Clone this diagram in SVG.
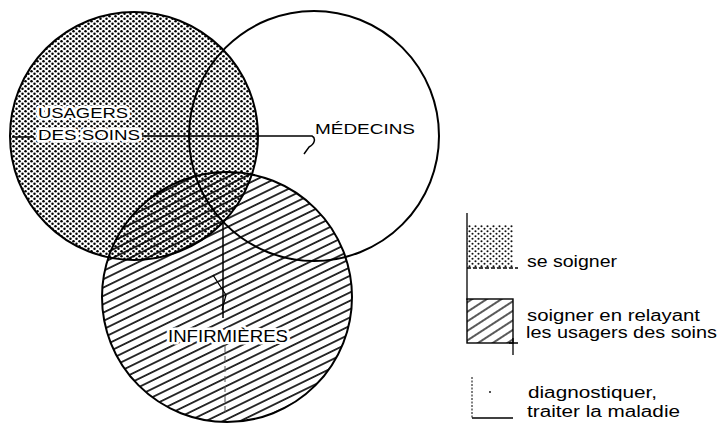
<svg xmlns="http://www.w3.org/2000/svg" width="720" height="425" viewBox="0 0 720 425">
<defs>
<pattern id="dots" patternUnits="userSpaceOnUse" width="6" height="5">
<circle cx="1.5" cy="1.25" r="1.25" fill="#000"/>
<circle cx="4.5" cy="3.75" r="1.25" fill="#000"/>
</pattern>
<pattern id="dotsLight" patternUnits="userSpaceOnUse" width="6" height="5">
<circle cx="1.5" cy="1.25" r="1.05" fill="#111"/>
<circle cx="4.5" cy="3.75" r="1.05" fill="#111"/>
</pattern>
<pattern id="hatch" patternUnits="userSpaceOnUse" width="10" height="7.5" patternTransform="rotate(-26)">
<line x1="0" y1="3.75" x2="10" y2="3.75" stroke="#000" stroke-width="1.6"/>
</pattern>
<pattern id="hatchLegend" patternUnits="userSpaceOnUse" width="10" height="8" patternTransform="rotate(-33)">
<line x1="0" y1="4" x2="10" y2="4" stroke="#000" stroke-width="1.3"/>
</pattern>
<style>
.outline{fill:none;stroke:#000;stroke-width:2}
.label{font-family:"Liberation Sans",Arial,sans-serif;fill:#000;stroke:#fff;stroke-width:5;paint-order:stroke;stroke-linejoin:round}
.leg{font-family:"Liberation Sans",Arial,sans-serif;font-size:16px;fill:#000}
.conn{fill:none;stroke:#000;stroke-width:1.5}
.thin{fill:none;stroke:#000;stroke-width:1.3}
</style>
</defs>
<rect width="720" height="425" fill="#fff"/>

<g id="usagers">
<circle cx="134" cy="136" r="124" fill="url(#dots)"/>
</g>
<g id="infirmieres">
<circle cx="227" cy="297" r="125" fill="url(#hatch)"/>
</g>
<g id="outlines">
<circle class="outline" cx="134" cy="136" r="124"/>
<circle class="outline" cx="314" cy="136" r="125"/>
<circle class="outline" cx="227" cy="297" r="125"/>
</g>
<g id="medecins">
<text class="label" x="315" y="134" font-size="15" textLength="100" lengthAdjust="spacingAndGlyphs">MÉDECINS</text>
</g>
<g id="usagers-label">
<text class="label" x="38" y="118" font-size="15" textLength="90" lengthAdjust="spacingAndGlyphs">USAGERS</text>
<text class="label" x="38" y="140" font-size="15" textLength="102" lengthAdjust="spacingAndGlyphs">DES SOINS</text>
</g>
<g id="infirmieres-label">
<text class="label" x="168" y="342" font-size="16" textLength="120" lengthAdjust="spacingAndGlyphs">INFIRMIÈRES</text>
</g>

<g id="connectors">
<path class="conn" d="M12,137 L34,137"/>
<path class="conn" d="M142,136 L312,136 C316,138 315,144 309,147 L304,154"/>
<path class="conn" d="M223,222 L223,318"/>
<path class="thin" d="M213,275 L226,295 L222,310"/>
<path d="M225,346 L225,414" fill="none" stroke="#555" stroke-width="1" stroke-dasharray="6 4"/>
</g>

<g id="legend">
<rect x="467" y="225" width="46" height="43" fill="url(#dotsLight)"/>
<path class="thin" d="M467,213 L467,300"/>
<path d="M467,268 L518,268" fill="none" stroke="#000" stroke-width="1.3" stroke-dasharray="4 2"/>
<rect x="467" y="299" width="46" height="44" fill="url(#hatchLegend)" stroke="#000" stroke-width="1.4"/>
<path class="thin" d="M513,338 L513,355 M509,343 L518,343"/>
<path d="M472,377 L472,418" fill="none" stroke="#000" stroke-width="1" stroke-dasharray="2 1.5"/>
<path class="thin" d="M472,418 L513,418"/>
<circle cx="490" cy="392" r="0.9" fill="#000"/>
<text class="leg" x="527" y="267" textLength="90" lengthAdjust="spacingAndGlyphs">se soigner</text>
<text class="leg" x="527" y="321" textLength="173" lengthAdjust="spacingAndGlyphs">soigner en relayant</text>
<text class="leg" x="526" y="338" textLength="191" lengthAdjust="spacingAndGlyphs">les usagers des soins</text>
<text class="leg" x="528" y="398" textLength="129" lengthAdjust="spacingAndGlyphs">diagnostiquer,</text>
<text class="leg" x="527" y="417" textLength="153" lengthAdjust="spacingAndGlyphs">traiter la maladie</text>
</g>
</svg>
